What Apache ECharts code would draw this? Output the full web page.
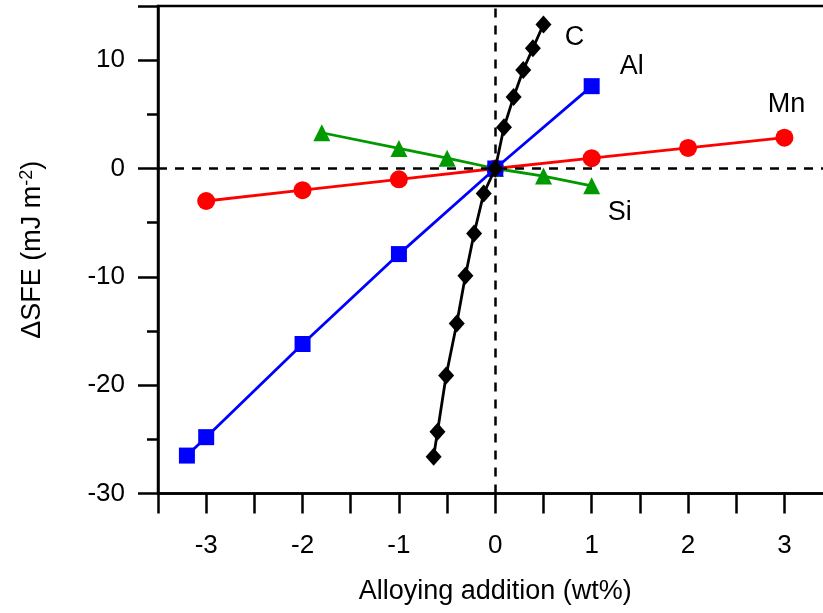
<!DOCTYPE html>
<html>
<head>
<meta charset="utf-8">
<script src="https://cdn.jsdelivr.net/npm/echarts@6/dist/echarts.min.js"></script>
<style>html,body{margin:0;padding:0;background:#fff}#c{width:823px;height:613px}</style>
</head>
<body>
<div id="c"></div>
<script>
// Data
var mnX = [-3, -2, -1, 0, 1, 2, 3];
var mnY = [-3.0, -2.0, -1.0, 0, 0.95, 1.9, 2.85];
var alX = [-3.2, -3, -2, -1, 0, 1];
var alY = [-26.5, -24.8, -16.2, -7.9, 0, 7.6];
var siX = [-1.8, -1, -0.5, 0, 0.5, 1];
var siY = [3.3, 1.85, 0.95, 0, -0.7, -1.6];
var cX = [-0.64, -0.6, -0.51, -0.4, -0.31, -0.22, -0.12, 0, 0.09, 0.19, 0.29, 0.39, 0.5];
var cY = [-26.6, -24.3, -19.1, -14.3, -9.9, -6.0, -2.3, 0, 3.8, 6.6, 9.1, 11.1, 13.3];
var xTicks = [-3, -2, -1, 0, 1, 2, 3];
var yTicks = [-30, -20, -10, 0, 10];

var FONT = '"Liberation Sans", Arial, sans-serif';

function pts(xs, ys, labelIdx, labelText, offset) {
  return xs.map(function (x, i) {
    var d = { value: [x, ys[i]] };
    if (i === labelIdx) {
      d.label = {
        show: true, formatter: labelText, color: '#000',
        fontSize: 27, fontFamily: FONT, position: 'inside',
        align: 'center', verticalAlign: 'middle', offset: offset
      };
    }
    return d;
  });
}

var chart = echarts.init(document.getElementById('c'), null, { renderer: 'canvas' });
var axisLineStyle = { color: '#000', width: 2.5 };

chart.setOption({
  animation: false,
  backgroundColor: '#fff',
  grid: {
    left: 158, top: 6, right: -9.6, bottom: 119.5,
    outerBoundsMode: 'none', containLabel: false,
    show: true, borderColor: '#000', borderWidth: 2.5, backgroundColor: 'transparent'
  },
  xAxis: {
    type: 'value', min: -3.5, max: 3.5, interval: 0.5,
    name: 'Alloying addition (wt%)', nameLocation: 'middle', nameGap: 85,
    nameTextStyle: { fontSize: 27, fontFamily: FONT, color: '#000' },
    axisLine: { show: true, onZero: false, lineStyle: axisLineStyle },
    axisTick: { show: true, length: 20, lineStyle: axisLineStyle },
    minorTick: { show: false },
    splitLine: { show: false },
    axisLabel: {
      margin: 39, fontSize: 26, fontFamily: FONT, color: '#000',
      formatter: function (v) { return xTicks.indexOf(v) >= 0 ? String(v) : ''; }
    }
  },
  yAxis: {
    type: 'value', min: -30, max: 15, interval: 10,
    name: '{a|ΔSFE (mJ m}{b|-2}{a|)}', nameLocation: 'middle', nameGap: 110, nameRotate: 90,
    nameTextStyle: {
      rich: {
        a: { fontSize: 27, fontFamily: FONT, color: '#000' },
        b: { fontSize: 18, fontFamily: FONT, color: '#000', verticalAlign: 'top', padding: [0, 0, 12, 0] }
      }
    },
    axisLine: { show: true, onZero: false, lineStyle: axisLineStyle },
    axisTick: { show: true, length: 20, lineStyle: axisLineStyle },
    minorTick: { show: true, splitNumber: 2, length: 11, lineStyle: axisLineStyle },
    splitLine: { show: false },
    minorSplitLine: { show: false },
    axisLabel: { margin: 33, fontSize: 26, fontFamily: FONT, color: '#000',
      formatter: function (v) { return yTicks.indexOf(v) >= 0 ? String(v) : ''; } }
  },
  series: [
    {
      name: 'Mn', type: 'line', data: pts(mnX, mnY, 6, 'Mn', [2, -33]),
      symbol: 'circle', symbolSize: 18, itemStyle: { color: '#ff0000' },
      lineStyle: { color: '#ff0000', width: 2.8 }, z: 3,
      markLine: {
        silent: true, symbol: 'none', animation: false,
        lineStyle: { color: '#000', type: [9, 8], width: 2.5 },
        label: { show: false },
        data: [{ xAxis: 0 }, { yAxis: 0 }]
      }
    },
    {
      name: 'Si', type: 'line', data: pts(siX, siY, 5, 'Si', [28, 27]),
      symbol: 'triangle', symbolSize: 17, itemStyle: { color: '#009900' },
      lineStyle: { color: '#009900', width: 2.8 }, z: 4
    },
    {
      name: 'Al', type: 'line', data: pts(alX, alY, 5, 'Al', [40, -20]),
      symbol: 'rect', symbolSize: 16, itemStyle: { color: '#0000ff' },
      lineStyle: { color: '#0000ff', width: 2.8 }, z: 5
    },
    {
      name: 'C', type: 'line', data: pts(cX, cY, 12, 'C', [31, 13]),
      symbol: 'diamond', symbolSize: [16, 18], itemStyle: { color: '#000' },
      lineStyle: { color: '#000', width: 2.8 }, z: 6
    }
  ]
});
</script>
</body>
</html>
